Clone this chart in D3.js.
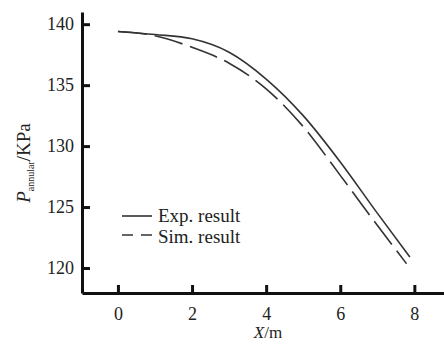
<!DOCTYPE html>
<html>
<head>
<meta charset="utf-8">
<script src="https://cdn.jsdelivr.net/npm/d3@7"></script>
<style>
  body { margin: 0; background: #fff; }
  svg text { font-family: "Liberation Serif", "Times New Roman", serif; fill: #222; }
</style>
</head>
<body>
<div id="chart"></div>
<script>
// values
var expX = [0, 1, 2, 3, 4, 5, 6, 7, 7.88];
var expP = [139.4, 139.15, 138.8, 137.7, 135.5, 132.5, 128.7, 124.5, 120.9];
var simX = [0, 1, 2, 3, 4, 5, 6, 7, 7.79];
var simP = [139.4, 139.05, 138.1, 136.8, 134.7, 131.6, 127.6, 123.5, 120.35];
var xTicks = [0, 2, 4, 6, 8];
var yTicks = [120, 125, 130, 135, 140];
var legendLabels = ["Exp. result", "Sim. result"];

var width = 444, height = 344;
var svg = d3.select("#chart").append("svg")
    .attr("width", width)
    .attr("height", height);

var x = d3.scaleLinear().domain([-0.97, 8.8]).range([82, 444]);
var y = d3.scaleLinear().domain([117.95, 141]).range([293, 12]);

// x axis, ticks pointing up
var gx = svg.append("g")
    .attr("transform", "translate(0,293)")
    .call(d3.axisBottom(x).tickValues(xTicks).tickSizeInner(-8).tickSizeOuter(0).tickPadding(10));
// y axis, ticks pointing right
var gy = svg.append("g")
    .attr("transform", "translate(82,0)")
    .call(d3.axisLeft(y).tickValues(yTicks).tickSizeInner(-8).tickSizeOuter(0).tickPadding(8));

[gx, gy].forEach(function(g){
    g.attr("font-family", "Liberation Serif, serif").attr("font-size", 18);
    g.select(".domain").attr("stroke", "#111").attr("stroke-width", 3);
    g.selectAll(".tick line").attr("stroke", "#111").attr("stroke-width", 3);
    g.selectAll(".tick text").attr("fill", "#222");
});
gx.selectAll(".tick text").attr("dy", "0.95em");

// curves
var line = d3.line()
    .x(function(d){ return x(d[0]); })
    .y(function(d){ return y(d[1]); })
    .curve(d3.curveMonotoneX);

var expPts = expX.map(function(v, i){ return [v, expP[i]]; });
var simPts = simX.map(function(v, i){ return [v, simP[i]]; });

svg.append("path")
    .datum(expPts)
    .attr("d", line)
    .attr("fill", "none")
    .attr("stroke", "#333")
    .attr("stroke-width", 1.6);

svg.append("path")
    .datum(simPts)
    .attr("d", line)
    .attr("fill", "none")
    .attr("stroke", "#333")
    .attr("stroke-width", 1.6)
    .attr("stroke-dasharray", "29,8");

// legend
var leg = svg.append("g").attr("transform", "translate(122,216)");
leg.append("line").attr("x1", 0).attr("x2", 30).attr("y1", 0).attr("y2", 0)
    .attr("stroke", "#333").attr("stroke-width", 1.6);
leg.append("line").attr("x1", 0).attr("x2", 30).attr("y1", 19).attr("y2", 19)
    .attr("stroke", "#333").attr("stroke-width", 1.6).attr("stroke-dasharray", "11,8");
leg.selectAll("text.lab")
    .data(legendLabels)
    .enter().append("text")
    .attr("class", "lab")
    .attr("x", 36)
    .attr("y", function(d, i){ return 6 + i * 21; })
    .style("font-size", "19px")
    .text(function(d){ return d; });

// axis titles
var xt = svg.append("text")
    .attr("x", 268)
    .attr("y", 338)
    .attr("text-anchor", "middle")
    .style("font-size", "17px");
xt.append("tspan").style("font-style", "italic").text("X");
xt.append("tspan").text("/m");

var yt = svg.append("text")
    .attr("transform", "translate(30,163) rotate(-90)")
    .attr("text-anchor", "middle")
    .style("font-size", "19px");
yt.append("tspan").style("font-style", "italic").text("P");
yt.append("tspan").attr("dy", 4).style("font-size", "10px").text("annular");
yt.append("tspan").attr("dy", -4).text("/KPa");
</script>
</body>
</html>
